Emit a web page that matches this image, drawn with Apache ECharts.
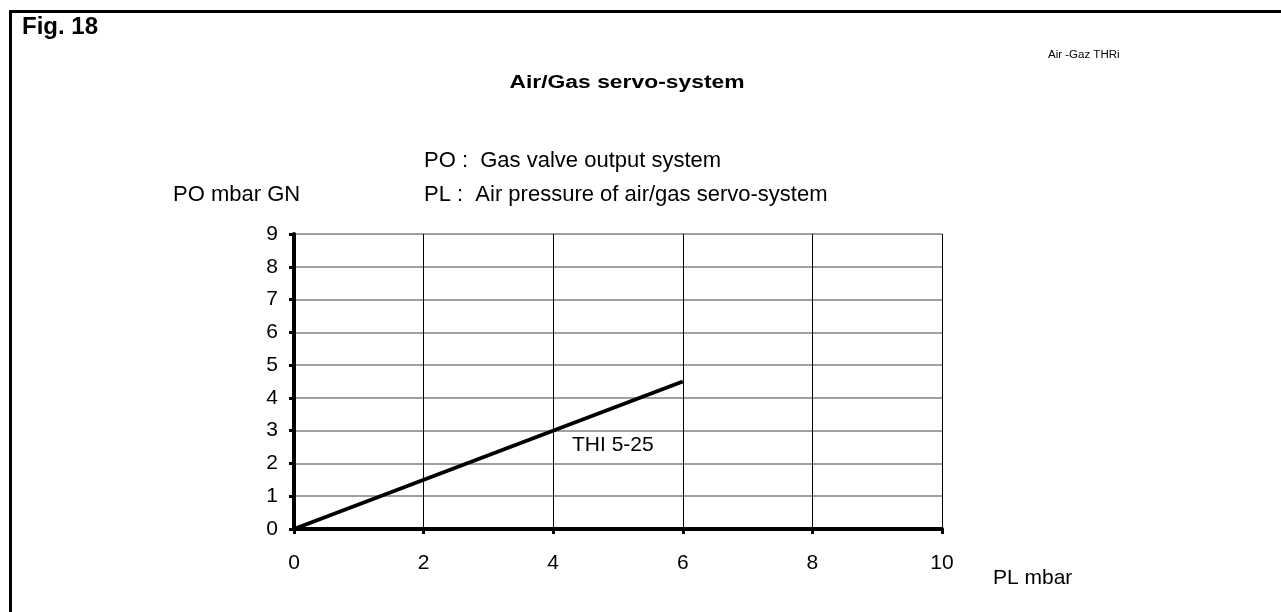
<!DOCTYPE html>
<html><head><meta charset="utf-8">
<script src="https://cdn.jsdelivr.net/npm/echarts@6/dist/echarts.min.js"></script>
<style>html,body{margin:0;padding:0;background:#fff}#c{width:1281px;height:612px}</style>
</head><body><div id="c"></div>
<script>
var plValues = [0, 6];
var poValues = [0, 4.5];
var seriesName = 'THI 5-25';
var labelPos = [4.92, 2.56];
var xTicks = [0, 2, 4, 6, 8, 10];
var yTicks = [0, 1, 2, 3, 4, 5, 6, 7, 8, 9];

var font = 'Arial, "Liberation Sans", sans-serif';
var chart = echarts.init(document.getElementById('c'));
chart.setOption({
  animation: false,
  backgroundColor: '#fff',
  textStyle: {fontFamily: font},
  grid: {left: 294, top: 234, width: 648, height: 295},
  xAxis: {
    type: 'value', min: xTicks[0], max: xTicks[xTicks.length - 1], interval: xTicks[1] - xTicks[0],
    axisLine: {lineStyle: {color: '#000', width: 4}},
    axisTick: {show: true, length: 5, lineStyle: {color: '#000', width: 3}},
    axisLabel: {color: '#000', fontSize: 21, margin: 24, fontFamily: font},
    splitLine: {show: true, lineStyle: {color: '#000', width: 1}}
  },
  yAxis: {
    type: 'value', min: yTicks[0], max: yTicks[yTicks.length - 1], interval: yTicks[1] - yTicks[0],
    axisLine: {show: true, lineStyle: {color: '#000', width: 4}},
    axisTick: {show: true, length: 5, lineStyle: {color: '#000', width: 3}},
    axisLabel: {color: '#000', fontSize: 21, margin: 16, fontFamily: font},
    splitLine: {show: true, lineStyle: {color: '#808080', width: 1.5}}
  },
  series: [{
    type: 'line', name: seriesName,
    data: plValues.map(function(x, i){ return [x, poValues[i]]; }),
    symbol: 'none',
    lineStyle: {color: '#000', width: 4}
  }, {
    type: 'scatter', name: 'label',
    data: [labelPos],
    symbolSize: 0.1,
    itemStyle: {color: '#fff', opacity: 1},
    label: {show: true, position: 'inside', formatter: seriesName, color: '#000', fontSize: 21, fontFamily: font, textBorderWidth: 0},
    emphasis: {disabled: true},
    silent: true
  }],
  graphic: [
    {type: 'rect', shape: {x: 10.5, y: 11.5, width: 1300, height: 640}, style: {fill: 'none', stroke: '#000', lineWidth: 3}},
    {type: 'text', x: 22, y: 15, style: {text: 'Fig. 18', font: 'bold 24px ' + font, fill: '#000'}},
    {type: 'text', x: 1048, y: 55, scaleX: 1.15, style: {text: 'Air -Gaz THRi', font: '10px ' + font, fill: '#000', verticalAlign: 'middle'}},
    {type: 'text', x: 627, y: 83, scaleX: 1.27, style: {text: 'Air/Gas servo-system', font: 'bold 18px ' + font, fill: '#000', align: 'center', verticalAlign: 'middle'}},
    {type: 'text', x: 424, y: 161, style: {text: 'PO :  Gas valve output system', font: '22px ' + font, fill: '#000', verticalAlign: 'middle'}},
    {type: 'text', x: 424, y: 195, style: {text: 'PL :  Air pressure of air/gas servo-system', font: '22px ' + font, fill: '#000', verticalAlign: 'middle'}},
    {type: 'text', x: 173, y: 195, style: {text: 'PO mbar GN', font: '22px ' + font, fill: '#000', verticalAlign: 'middle'}},
    {type: 'text', x: 993, y: 578, style: {text: 'PL mbar', font: '21px ' + font, fill: '#000', verticalAlign: 'middle'}}
  ]
});
</script></body></html>
